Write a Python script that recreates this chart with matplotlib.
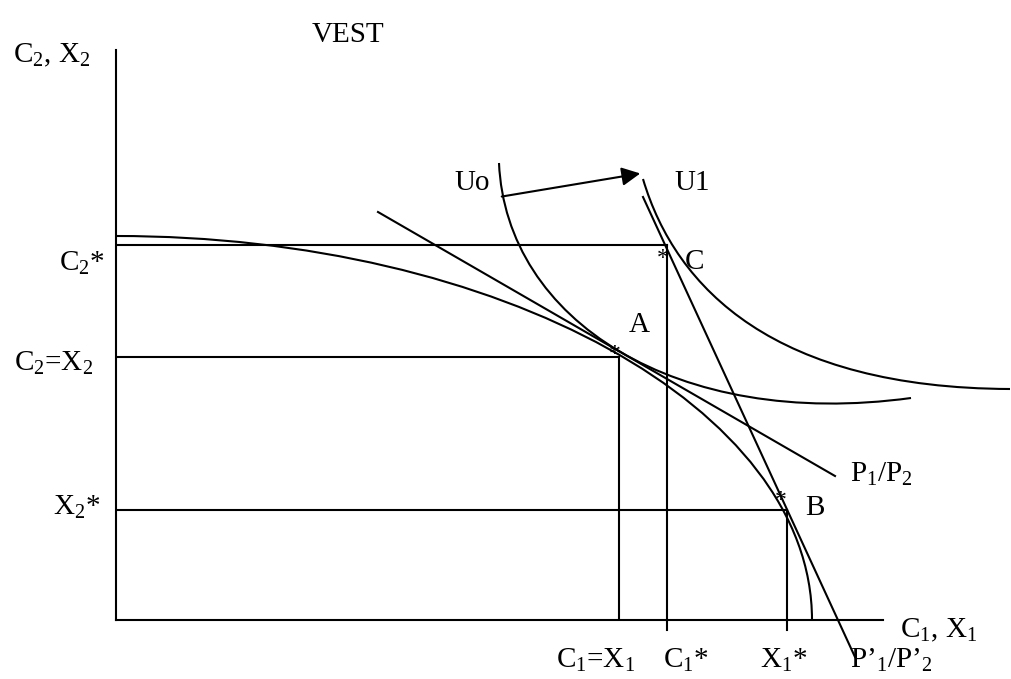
import numpy as np
import matplotlib
matplotlib.use("Agg")
import matplotlib.pyplot as plt
from matplotlib.path import Path
from matplotlib.patches import PathPatch, FancyArrowPatch

plt.rcParams['font.family'] = ['Liberation Serif', 'DejaVu Serif']
plt.rcParams['mathtext.fontset'] = 'custom'
plt.rcParams['mathtext.rm'] = 'Liberation Serif'
plt.rcParams['mathtext.default'] = 'regular'

# key quantities on the axes
c1_x1, c2_x2 = 503, 263      # point A (autarky)
c1_star, c2_star = 551, 375  # point C (consumption with trade)
x1_star, x2_star = 671, 110  # point B (production with trade)
x_axis_end, y_axis_end = 767, 570

# curves as cubic bezier control points
ppf_ctrl = [(0, 384), (384, 384), (696, 212), (696, 0)]
u0_ctrl = [(383, 457), (390, 300), (560, 190), (795, 222)]
u1_ctrl = [(527, 441), (560, 330), (660, 232), (894, 231)]

# price lines (start, end)
p_line = [(262, 408), (719, 144)]
p_new_line = [(527, 423), (739, -37)]

# shift of utility
arrow_pts = [(383, 423), (527, 447)]

# asterisks marking A, C, B
star_x = [499, 547, 665]
star_y = [265, 362, 119]

fig = plt.figure(figsize=(10.11, 6.79), dpi=100)
ax = fig.add_axes([116 / 1011, 59 / 679, 767 / 1011, 570 / 679])
ax.set_xlim(0, x_axis_end)
ax.set_ylim(0, y_axis_end)
for s in ['top', 'right']:
    ax.spines[s].set_visible(False)
for s in ['left', 'bottom']:
    ax.spines[s].set_linewidth(1.5)
ax.set_xticks([])
ax.set_yticks([])

lw = 1.5
codes = [Path.MOVETO, Path.CURVE4, Path.CURVE4, Path.CURVE4]
for ctrl in (ppf_ctrl, u0_ctrl, u1_ctrl):
    ax.add_patch(PathPatch(Path(ctrl, codes), fill=False, lw=lw,
                           color='black', clip_on=False))

for (x0, y0), (x1, y1) in (p_line, p_new_line):
    ax.plot([x0, x1], [y0, y1], color='black', lw=lw, clip_on=False)

# guide lines
ax.plot([0, c1_star], [c2_star, c2_star], color='black', lw=lw)
ax.plot([0, c1_x1], [c2_x2, c2_x2], color='black', lw=lw)
ax.plot([0, x1_star], [x2_star, x2_star], color='black', lw=lw)
ax.plot([c1_x1, c1_x1], [0, c2_x2], color='black', lw=lw)
ax.plot([c1_star, c1_star], [-10, c2_star], color='black', lw=lw, clip_on=False)
ax.plot([x1_star, x1_star], [-10, x2_star], color='black', lw=lw, clip_on=False)

arr = FancyArrowPatch(arrow_pts[0], arrow_pts[1], arrowstyle='-|>',
                      mutation_scale=28, color='black', lw=lw, clip_on=False)
ax.add_patch(arr)

for x, y in zip(star_x, star_y):
    ax.text(x, y, '*', fontsize=17, ha='center', va='center')

fs = 21
ax.text(232, 585, 'VEST', fontsize=fs, ha='center', va='center')
ax.text(-64, 565, 'C$_2$, X$_2$', fontsize=fs, ha='center', va='center')
ax.text(356, 437, 'Uo', fontsize=fs, ha='center', va='center')
ax.text(576, 437, 'U1', fontsize=fs, ha='center', va='center')
ax.text(-11, 357, 'C$_2$*', fontsize=fs, ha='right', va='center')
ax.text(578, 358, 'C', fontsize=fs, ha='center', va='center')
ax.text(523, 295, 'A', fontsize=fs, ha='center', va='center')
ax.text(-62, 257, 'C$_2$=X$_2$', fontsize=fs, ha='center', va='center')
ax.text(734, 146, 'P$_1$/P$_2$', fontsize=fs, ha='left', va='center')
ax.text(-16, 113, 'X$_2$*', fontsize=fs, ha='right', va='center')
ax.text(699, 112, 'B', fontsize=fs, ha='center', va='center')
ax.text(784, -10, 'C$_1$, X$_1$', fontsize=fs, ha='left', va='center')
ax.text(480, -40, 'C$_1$=X$_1$', fontsize=fs, ha='center', va='center')
ax.text(570, -40, 'C$_1$*', fontsize=fs, ha='center', va='center')
ax.text(668, -40, 'X$_1$*', fontsize=fs, ha='center', va='center')
ax.text(734, -40, 'P\u2019$_1$/P\u2019$_2$', fontsize=fs, ha='left', va='center')

fig.savefig('out.png', dpi=100)
